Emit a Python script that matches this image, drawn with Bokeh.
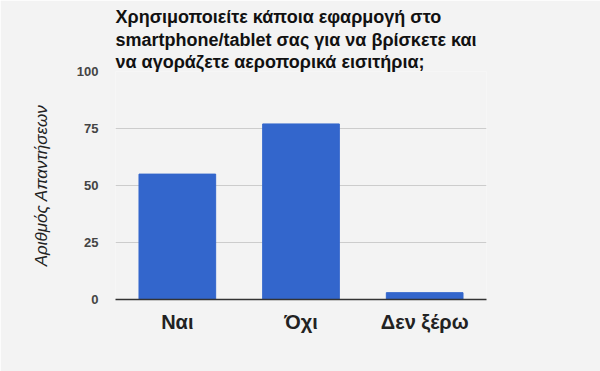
from bokeh.plotting import figure
from bokeh.models import FixedTicker
from bokeh.embed import file_html
from bokeh.resources import INLINE

categories = ["Ναι", "Όχι", "Δεν ξέρω"]
counts = [55, 77, 3]
y_ticks = [0, 25, 50, 75, 100]
title_lines = [
    "Χρησιμοποιείτε κάποια εφαρμογή στο",
    "smartphone/tablet σας για να βρίσκετε και",
    "να αγοράζετε αεροπορικά εισιτήρια;",
]
y_label = "Αριθμός Απαντήσεων"

BG = "#f3f3f3"
FONT = "Liberation Sans"

p = figure(x_range=categories, y_range=(0, 100),
           width=600, height=371,
           min_border_left=115, min_border_right=114,
           min_border_top=71, min_border_bottom=72,
           output_backend="svg", toolbar_location=None)

p.vbar(x=categories, top=counts, width=0.62, color="#3366cc")

p.title.text = "\n".join(title_lines)
p.title.text_font = FONT
p.title.text_font_size = "18px"
p.title.text_font_style = "bold"
p.title.text_color = "#111111"
p.title.text_line_height = 1.13
p.title.align = "left"
p.title.standoff = -2

p.background_fill_color = BG
p.border_fill_color = BG
p.outline_line_color = None

p.xgrid.grid_line_color = None
p.ygrid.grid_line_color = "#cccccc"
p.ygrid.grid_line_width = 1

p.yaxis.ticker = FixedTicker(ticks=y_ticks)
p.yaxis.axis_line_color = None
p.yaxis.major_tick_line_color = None
p.yaxis.minor_tick_line_color = None
p.yaxis.major_label_text_font = FONT
p.yaxis.major_label_text_font_size = "13px"
p.yaxis.major_label_text_font_style = "bold"
p.yaxis.major_label_text_color = "#444444"
p.yaxis.major_label_standoff = 11
p.yaxis.axis_label = y_label
p.yaxis.axis_label_text_font = FONT
p.yaxis.axis_label_text_font_size = "17px"
p.yaxis.axis_label_text_font_style = "italic"
p.yaxis.axis_label_text_color = "#222222"
p.yaxis.axis_label_standoff = 23

p.xaxis.axis_line_color = "#333333"
p.xaxis.axis_line_width = 1.5
p.xaxis.major_tick_line_color = None
p.xaxis.minor_tick_line_color = None
p.xaxis.major_label_text_font = FONT
p.xaxis.major_label_text_font_size = "20px"
p.xaxis.major_label_text_font_style = "bold"
p.xaxis.major_label_text_color = "#222222"
p.xaxis.major_label_standoff = 5

open("out.html", "w").write(file_html(p, INLINE))
